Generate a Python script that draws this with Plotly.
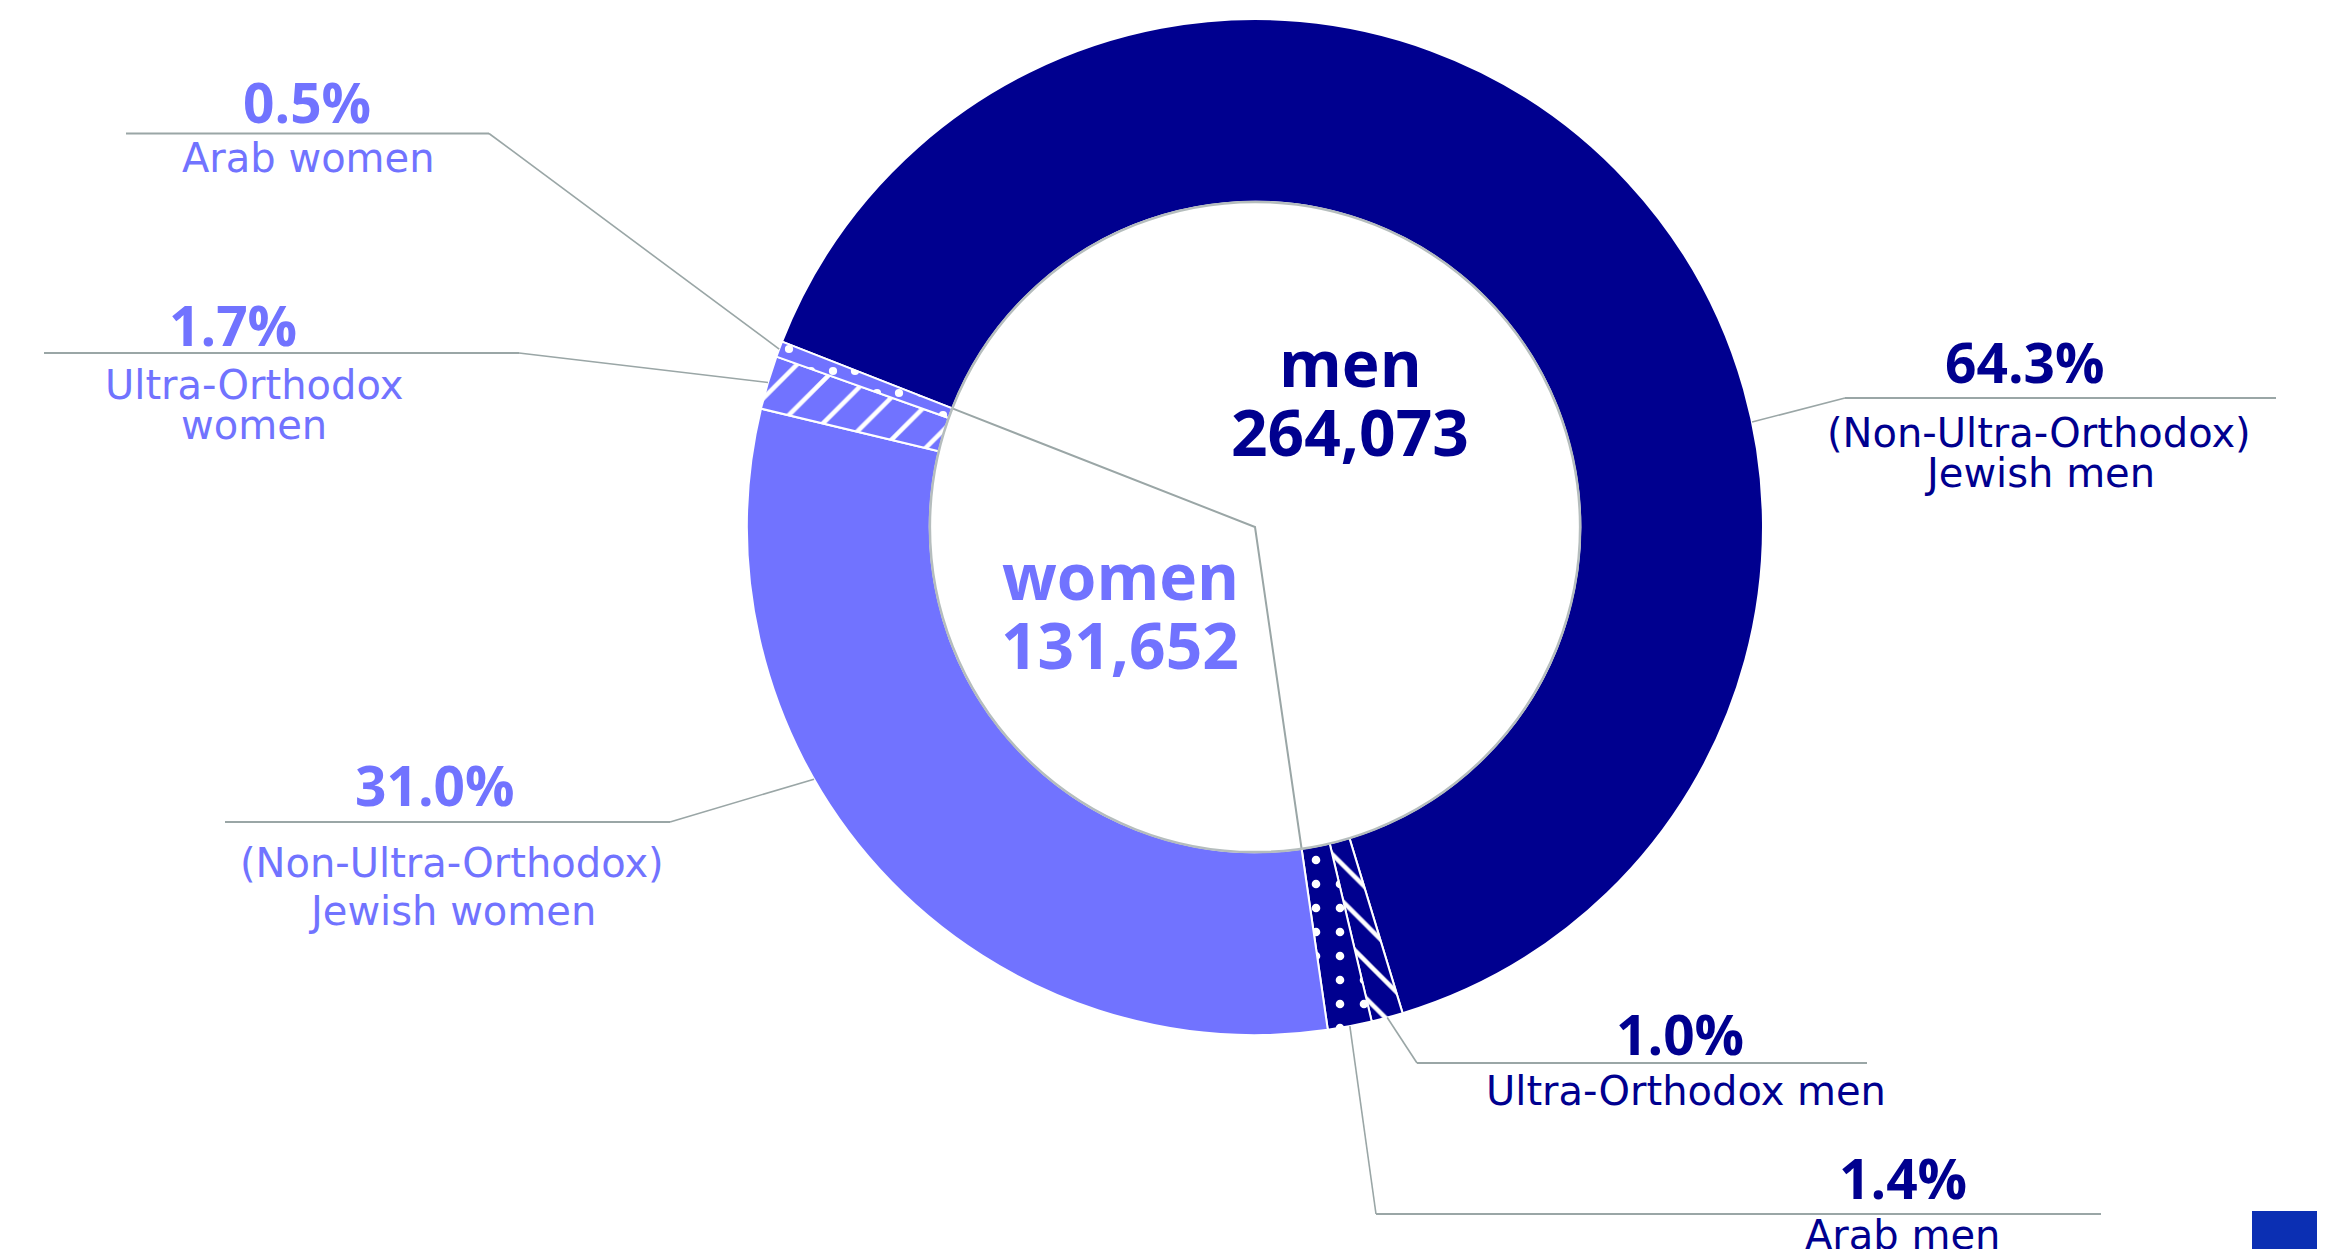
import math
import plotly.graph_objects as go

# ---------------- data ----------------
groups = ["(Non-Ultra-Orthodox) Jewish men", "Ultra-Orthodox men", "Arab men",
          "(Non-Ultra-Orthodox) Jewish women", "Ultra-Orthodox women", "Arab women"]
shares = [64.3, 1.0, 1.4, 31.0, 1.7, 0.5]
sex = ["men", "men", "men", "women", "women", "women"]
pct_text = ["64.3%", "1.0%", "1.4%", "31.0%", "1.7%", "0.5%"]
name_lines = [["(Non-Ultra-Orthodox)", "Jewish men"], ["Ultra-Orthodox men"], ["Arab men"],
              ["(Non-Ultra-Orthodox)", "Jewish women"], ["Ultra-Orthodox", "women"], ["Arab women"]]
total_names = ["men", "women"]
total_values = [264073, 131652]

# ---------------- style ----------------
W, H = 2325, 1257
OFF = 8                      # default page margin around the plot div
FW, FH = W - 2 * OFF, H - 2 * OFF
NAVY = "#00008F"
LILAC = "#7173FF"
GRAY = "#9AA6A6"
FONT_B = "Open Sans"
FONT_R = "DejaVu Sans"
sex_color = {"men": NAVY, "women": LILAC}
slice_colors = [sex_color[s] for s in sex]
pattern_shapes = ["", "\\", ".", "", "/", "."]
pattern_sizes = [20, 26, 24, 20, 30, 22]
pattern_solid = [0.1, 0.17, 0.1, 0.1, 0.15, 0.11]

CX, CY = 1255, 527          # pie centre (px, page coords)
R_OUT = 508                 # outer radius (px)
HOLE = 0.64
ROT = 291.4                 # start angle of the first slice (deg, clockwise from 12 o'clock)

# label layout per slice (px): pct centre, name x, name line ys, underline (x0, x1, y), anchor fraction in slice
label_layout = [
    dict(pct=(2025, 361), nx=2039, ny=[433, 473], hl=(1845, 2276, 398), frac=0.633),
    dict(pct=(1680, 1033), nx=1686, ny=[1091], hl=(1417, 1867, 1063), frac=0.5),
    dict(pct=(1903, 1177), nx=1902, ny=[1235], hl=(1376, 2101, 1214), frac=0.5),
    dict(pct=(435, 785), nx=452, ny=[863, 911], hl=(225, 670, 822), frac=0.613),
    dict(pct=(233, 324), nx=254, ny=[385, 425], hl=(44, 519, 353), frac=0.5),
    dict(pct=(307, 102), nx=308, ny=[158], hl=(126, 489, 133.5), frac=0.5),
]
center_text_pos = {"men": (1350, 362, 431), "women": (1120, 575, 644)}


def px(x):
    return (x - OFF) / FW


def py(y):
    return 1 - (y - OFF) / FH


def polar(theta_deg, r):
    t = math.radians(theta_deg)
    return CX + r * math.sin(t), CY - r * math.cos(t)


fig = go.Figure(go.Pie(
    labels=groups, values=shares, sort=False, direction="clockwise", rotation=ROT,
    hole=HOLE, textinfo="none", showlegend=False, hoverinfo="label+percent",
    marker=dict(colors=slice_colors, line=dict(color="white", width=2),
                pattern=dict(shape=pattern_shapes, fgcolor="white", bgcolor=slice_colors,
                             fillmode="replace", size=pattern_sizes, solidity=pattern_solid)),
    domain=dict(x=[px(CX - R_OUT), px(CX + R_OUT)], y=[py(CY + R_OUT), py(CY - R_OUT)]),
))

total = sum(shares)
shapes = []
annotations = []
cum = 0.0
for i, v in enumerate(shares):
    a0 = ROT + 360 * cum / total
    a1 = ROT + 360 * (cum + v) / total
    cum += v
    L = label_layout[i]
    col = slice_colors[i]
    ang = a0 + (a1 - a0) * L["frac"]
    ax, ay = polar(ang, R_OUT)
    x0, x1, yl = L["hl"]
    near = x0 if abs(x0 - CX) < abs(x1 - CX) else x1
    shapes.append(dict(type="line", xref="paper", yref="paper", x0=px(x0), x1=px(x1),
                       y0=py(yl), y1=py(yl), line=dict(color=GRAY, width=2)))
    shapes.append(dict(type="line", xref="paper", yref="paper", x0=px(near), y0=py(yl),
                       x1=px(ax), y1=py(ay), line=dict(color=GRAY, width=1.6)))
    annotations.append(dict(xref="paper", yref="paper", x=px(L["pct"][0]), y=py(L["pct"][1]),
                            text="<b>%s</b>" % pct_text[i], showarrow=False, xanchor="center",
                            yanchor="middle", font=dict(family=FONT_B, size=55, color=col)))
    for line, yy in zip(name_lines[i], L["ny"]):
        annotations.append(dict(xref="paper", yref="paper", x=px(L["nx"]), y=py(yy),
                                text=line, showarrow=False, xanchor="center", yanchor="middle",
                                font=dict(family=FONT_R, size=40, color=col)))

# separator in the hole between the men and women groups
men_share = sum(v for v, s in zip(shares, sex) if s == "men")
r_in = R_OUT * HOLE
b0 = polar(ROT, r_in)
b1 = polar(ROT + 360 * men_share / total, r_in)
shapes.append(dict(type="path", xref="paper", yref="paper",
                   path="M %f,%f L %f,%f L %f,%f" % (px(b0[0]), py(b0[1]), px(CX), py(CY), px(b1[0]), py(b1[1])),
                   line=dict(color=GRAY, width=2)))
# inner outline of the ring
shapes.append(dict(type="circle", xref="paper", yref="paper",
                   x0=px(CX - r_in), x1=px(CX + r_in), y0=py(CY + r_in), y1=py(CY - r_in),
                   line=dict(color="#B5BDBD", width=2.5)))
# corner logo block
shapes.append(dict(type="rect", xref="paper", yref="paper", x0=px(2252), x1=1, y0=0, y1=py(1211),
                   fillcolor="#0B2FB3", line=dict(width=0)))

for name, val in zip(total_names, total_values):
    x, y_name, y_val = center_text_pos[name]
    col = sex_color[name]
    annotations.append(dict(xref="paper", yref="paper", x=px(x), y=py(y_name), text="<b>%s</b>" % name,
                            showarrow=False, xanchor="center", yanchor="middle",
                            font=dict(family=FONT_B, size=64, color=col)))
    annotations.append(dict(xref="paper", yref="paper", x=px(x), y=py(y_val), text="<b>{:,}</b>".format(val),
                            showarrow=False, xanchor="center", yanchor="middle",
                            font=dict(family=FONT_B, size=64, color=col)))

fig.update_layout(width=FW, height=FH, margin=dict(l=0, r=0, t=0, b=0),
                  paper_bgcolor="white", plot_bgcolor="white",
                  shapes=shapes, annotations=annotations)
fig.write_html("out.html")
